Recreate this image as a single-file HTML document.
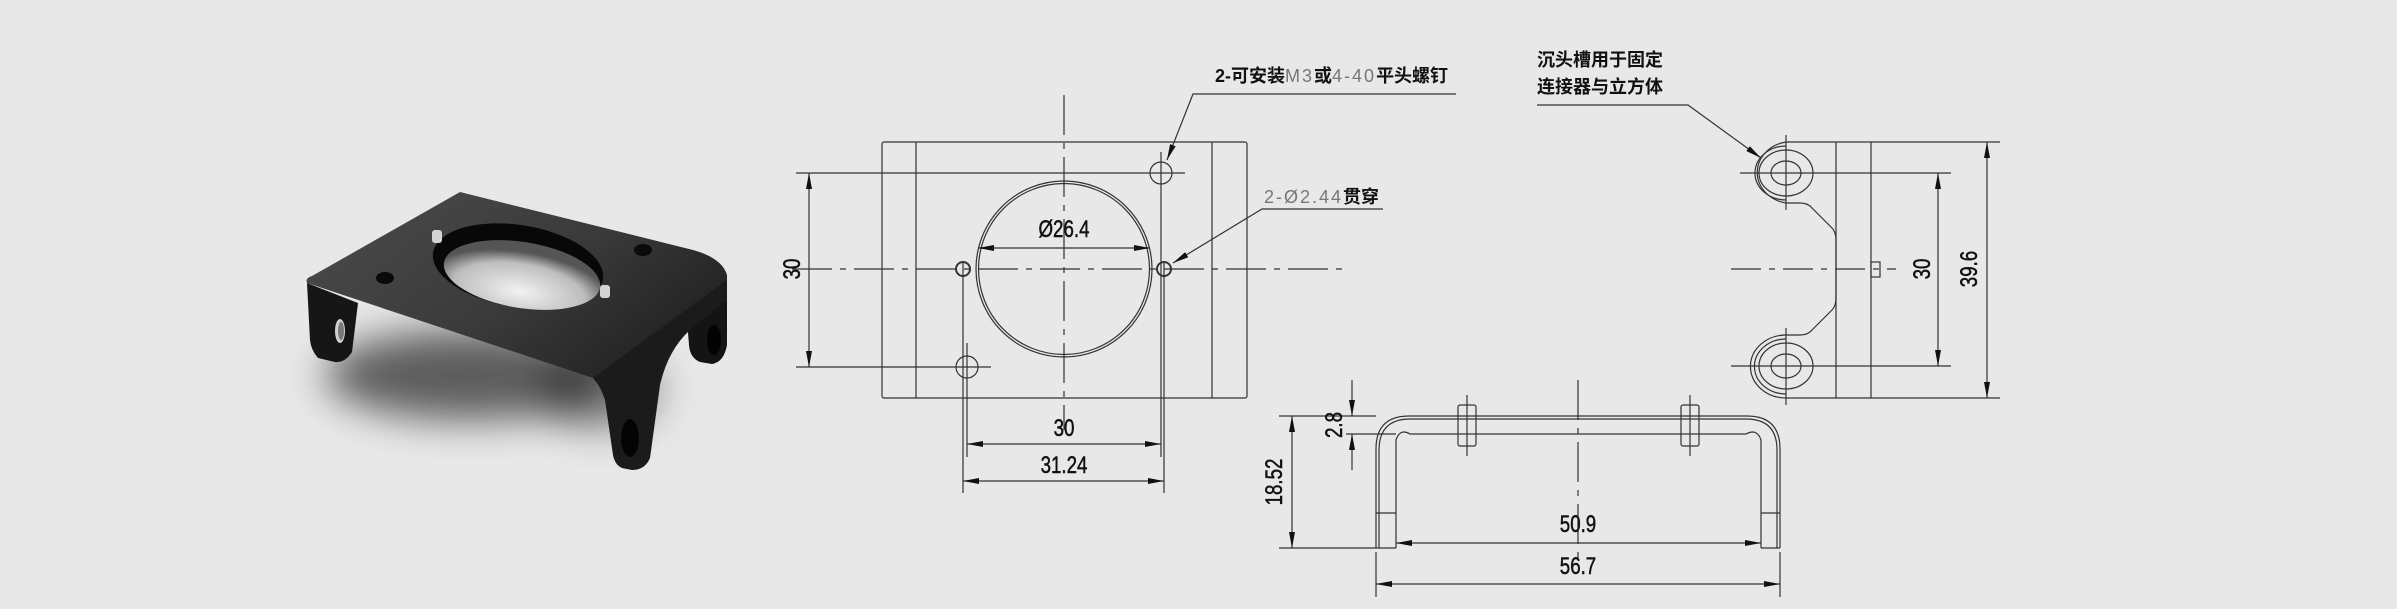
<!DOCTYPE html>
<html><head><meta charset="utf-8"><style>
html,body{margin:0;padding:0;background:#e8e8e8;}
svg{display:block}
.d{font-family:"Liberation Sans",sans-serif;font-size:24px;fill:#111;stroke:#111;stroke-width:0.5}
.c{font-family:"Liberation Sans","Noto Sans CJK SC",sans-serif;font-size:18px;fill:#111;font-weight:bold}
.g{font-weight:normal;fill:#777;letter-spacing:2px}
</style></head><body>
<svg width="2397" height="609" viewBox="0 0 2397 609" xmlns="http://www.w3.org/2000/svg">
<defs>
<filter id="bl" x="-50%" y="-50%" width="200%" height="200%"><feGaussianBlur stdDeviation="20"/></filter>
<filter id="bl2" x="-50%" y="-50%" width="200%" height="200%"><feGaussianBlur stdDeviation="6"/></filter>
<linearGradient id="pl" x1="0" y1="0" x2="1" y2="0.6"><stop offset="0" stop-color="#4c4c4c"/><stop offset="0.6" stop-color="#3a3a3a"/><stop offset="1" stop-color="#222"/></linearGradient>
<radialGradient id="hl" cx="0.5" cy="0.75" r="0.6"><stop offset="0" stop-color="#f2f2f2"/><stop offset="0.7" stop-color="#bdbdbd"/><stop offset="1" stop-color="#555"/></radialGradient>
<marker id="a" viewBox="0 0 10 10" refX="10" refY="5" markerWidth="16" markerHeight="6" markerUnits="userSpaceOnUse" orient="auto-start-reverse" preserveAspectRatio="none"><path d="M0,0 L10,5 L0,10z" fill="#111"/></marker>
</defs>
<rect width="2397" height="609" fill="#e8e8e8"/>

<!-- photo -->
<ellipse cx="470" cy="375" rx="145" ry="45" fill="#000" opacity="0.6" filter="url(#bl)"/>
<ellipse cx="600" cy="390" rx="60" ry="40" fill="#000" opacity="0.4" filter="url(#bl)"/>
<!-- back right leg -->
<path d="M687,320 L727,300 L727,345 Q724,362 712,364 L700,362 Q690,358 689,345z" fill="#141414"/>
<ellipse cx="714" cy="340" rx="7" ry="15" fill="#030303"/>
<!-- left leg -->
<path d="M307,283 L358,303 L352,352 Q345,363 335,362 L318,358 Q311,350 310,340z" fill="#161616"/>
<ellipse cx="340" cy="331" rx="5" ry="12" fill="#d0d0d0"/>
<ellipse cx="341" cy="331" rx="3" ry="9" fill="#777"/>
<!-- plate top -->
<path d="M460,192 L693,250 Q722,258 727,275 L727,285 L600,387 L593,378 L307,283 Q305,278 312,276z" fill="url(#pl)"/>
<!-- front right leg / bend -->
<path d="M593,378 L727,280 L727,300 L690,330 Q668,350 660,385 L650,458 Q645,470 632,470 L622,468 Q615,465 613,455 L605,400 Q600,385 593,378z" fill="#1b1b1b"/>
<ellipse cx="630" cy="438" rx="9" ry="19" fill="#040404"/>
<!-- hole -->
<ellipse cx="518" cy="266" rx="86" ry="41" transform="rotate(9 518 266)" fill="#080808"/>
<ellipse cx="522" cy="275" rx="79" ry="33" transform="rotate(9 522 275)" fill="url(#hl)"/>
<ellipse cx="385" cy="278" rx="9" ry="6" fill="#0a0a0a"/>
<ellipse cx="643" cy="250" rx="9" ry="6" fill="#0a0a0a"/>
<rect x="432" y="230" width="10" height="13" rx="3" fill="#d5d5d5"/>
<rect x="600" y="285" width="10" height="13" rx="3" fill="#d5d5d5"/>

<g fill="none" stroke="#333" stroke-width="1.2">
<!-- front view -->
<rect x="882" y="142" width="365" height="256" rx="2"/>
<line x1="916" y1="142" x2="916" y2="398"/><line x1="1212" y1="142" x2="1212" y2="398"/>
<circle cx="1064" cy="269" r="88"/><circle cx="1064" cy="269" r="85.5"/>
<circle cx="963" cy="269" r="7" stroke-width="2"/><circle cx="1164" cy="269" r="7" stroke-width="2"/>
<circle cx="1161" cy="173" r="11"/><circle cx="967" cy="367" r="11"/>
<line x1="792" y1="269" x2="1349" y2="269" stroke-dasharray="40,8,6,8"/>
<line x1="1064" y1="95" x2="1064" y2="430" stroke-dasharray="40,8,6,8"/>
<line x1="796" y1="173" x2="1185" y2="173"/><line x1="796" y1="367" x2="991" y2="367"/>
<line x1="809" y1="173" x2="809" y2="367" marker-start="url(#a)" marker-end="url(#a)"/>
<line x1="967" y1="343" x2="967" y2="457"/><line x1="963" y1="262" x2="963" y2="493"/>
<line x1="1161" y1="152" x2="1161" y2="457"/><line x1="1164" y1="262" x2="1164" y2="493"/>
<line x1="967" y1="444" x2="1161" y2="444" marker-start="url(#a)" marker-end="url(#a)"/>
<line x1="963" y1="481" x2="1164" y2="481" marker-start="url(#a)" marker-end="url(#a)"/>
<line x1="978" y1="248" x2="1150" y2="248" marker-start="url(#a)" marker-end="url(#a)"/>
<polyline points="1456,94 1193,94 1167,160" marker-end="url(#a)"/>
<polyline points="1383,209 1262,209 1173,263" marker-end="url(#a)"/>

<!-- side view -->
<path d="M1376,548 L1376,449 Q1376,416 1409,416 L1747,416 Q1780,416 1780,449 L1780,548"/>
<path d="M1379,548 L1379,450 Q1379,419 1410,419 L1746,419 Q1777,419 1777,450 L1777,548"/>
<path d="M1396,548 L1396,440 Q1400,428 1410,434 L1746,434 Q1757,428 1761,440 L1761,548"/>
<line x1="1376" y1="548" x2="1396" y2="548"/><line x1="1761" y1="548" x2="1780" y2="548"/>
<line x1="1376" y1="513" x2="1396" y2="513"/><line x1="1761" y1="513" x2="1780" y2="513"/>
<rect x="1458" y="405" width="18" height="41" rx="2"/><rect x="1681" y="405" width="18" height="41" rx="2"/>
<line x1="1467" y1="395" x2="1467" y2="456"/><line x1="1690" y1="395" x2="1690" y2="456"/>
<line x1="1578" y1="380" x2="1578" y2="560" stroke-dasharray="40,8,6,8"/>
<line x1="1279" y1="416" x2="1376" y2="416"/><line x1="1279" y1="548" x2="1376" y2="548"/>
<line x1="1346" y1="434" x2="1396" y2="434"/>
<line x1="1292" y1="416" x2="1292" y2="548" marker-start="url(#a)" marker-end="url(#a)"/>
<line x1="1352" y1="380" x2="1352" y2="416" marker-end="url(#a)"/>
<line x1="1352" y1="470" x2="1352" y2="434" marker-end="url(#a)"/>
<line x1="1396" y1="543" x2="1761" y2="543" marker-start="url(#a)" marker-end="url(#a)"/>
<line x1="1376" y1="552" x2="1376" y2="597"/><line x1="1780" y1="552" x2="1780" y2="597"/>
<line x1="1376" y1="584" x2="1780" y2="584" marker-start="url(#a)" marker-end="url(#a)"/>

<!-- right view -->
<line x1="1836" y1="142" x2="1836" y2="398"/><line x1="1871" y1="142" x2="1871" y2="398"/>
<path d="M1871,142 L1786,142 A35,31 0 0 0 1786,203 L1800,203 Q1808,203 1812,208 L1832,228 Q1836,232 1836,240 L1836,298 Q1836,306 1832,310 L1812,330 Q1808,335 1800,335 L1786,335 A35,31 0 0 0 1786,398 L1871,398"/>
<path d="M1786,146 A31,27 0 0 0 1786,200"/><path d="M1786,339 A31,27 0 0 0 1786,394"/>
<ellipse cx="1786" cy="173" rx="27" ry="23"/><ellipse cx="1786" cy="366" rx="27" ry="23"/>
<ellipse cx="1786" cy="173" rx="15" ry="12"/><ellipse cx="1786" cy="366" rx="15" ry="12"/>
<line x1="1740" y1="173" x2="1951" y2="173"/><line x1="1731" y1="366" x2="1951" y2="366"/>
<line x1="1786" y1="135" x2="1786" y2="210"/><line x1="1786" y1="328" x2="1786" y2="405"/>
<rect x="1871" y="262" width="9" height="15"/>
<line x1="1731" y1="269" x2="1896" y2="269" stroke-dasharray="30,8,6,8"/>
<line x1="1871" y1="142" x2="2000" y2="142"/><line x1="1871" y1="398" x2="2000" y2="398"/>
<line x1="1938" y1="173" x2="1938" y2="366" marker-start="url(#a)" marker-end="url(#a)"/>
<line x1="1987" y1="142" x2="1987" y2="398" marker-start="url(#a)" marker-end="url(#a)"/>
<polyline points="1537,105 1688,105 1761,158" marker-end="url(#a)"/>
</g>

<g class="d" text-anchor="middle">
<text transform="translate(800,269) rotate(-90) scale(0.78,1)">30</text>
<text transform="translate(1064,436) scale(0.78,1)">30</text>
<text transform="translate(1064,473) scale(0.78,1)">31.24</text>
<text transform="translate(1064,237) scale(0.78,1)">Ø26.4</text>
<text transform="translate(1282,482) rotate(-90) scale(0.78,1)">18.52</text>
<text transform="translate(1342,425) rotate(-90) scale(0.78,1)">2.8</text>
<text transform="translate(1578,532) scale(0.78,1)">50.9</text>
<text transform="translate(1578,574) scale(0.78,1)">56.7</text>
<text transform="translate(1930,269) rotate(-90) scale(0.78,1)">30</text>
<text transform="translate(1977,269) rotate(-90) scale(0.78,1)">39.6</text>
</g>
<text class="c" x="1215" y="82">2-可安装<tspan class="g">M3</tspan>或<tspan class="g">4-40</tspan>平头螺钉</text>
<text class="c" x="1264" y="203"><tspan class="g">2-Ø2.44</tspan>贯穿</text>
<text class="c" x="1537" y="66">沉头槽用于固定</text>
<text class="c" x="1537" y="93">连接器与立方体</text>
</svg>
</body></html>
